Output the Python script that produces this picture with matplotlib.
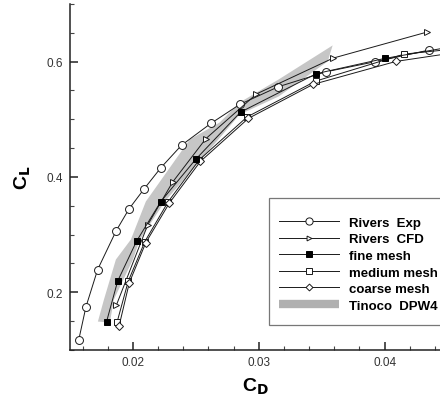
import matplotlib
matplotlib.use("Agg")
from matplotlib import pyplot as plt
from matplotlib.lines import Line2D
from matplotlib.patches import Rectangle
from matplotlib.ticker import MultipleLocator


# drag polar data, CD vs CL
exp_cd = [0.01569, 0.01627, 0.01720, 0.01867, 0.01970, 0.02090, 0.02222,
          0.02387, 0.02619, 0.02849, 0.03156, 0.03537, 0.03926, 0.04352]
exp_cl = [0.1167, 0.1747, 0.2394, 0.3065, 0.3447, 0.3794, 0.4158,
          0.4550, 0.4926, 0.5256, 0.5563, 0.5823, 0.5997, 0.6198]

cfd_cd = [0.01869, 0.02119, 0.02315, 0.02579, 0.02982, 0.03591, 0.04333]
cfd_cl = [0.1778, 0.3174, 0.3908, 0.4661, 0.5438, 0.6059, 0.6508]

fine_cd = [0.01791, 0.01879, 0.02029, 0.02222, 0.02498, 0.02855, 0.03458, 0.04000, 0.04650]
fine_cl = [0.1492, 0.2194, 0.2885, 0.3573, 0.4302, 0.5122, 0.5790, 0.6053, 0.6300]

medium_cd = [0.01875, 0.01963, 0.02095, 0.02280, 0.02526, 0.02907, 0.03452, 0.04155, 0.04700]
medium_cl = [0.1487, 0.2191, 0.2879, 0.3568, 0.4293, 0.5039, 0.5660, 0.6128, 0.6250]

coarse_cd = [0.01891, 0.01972, 0.02103, 0.02290, 0.02536, 0.02917, 0.03431, 0.04091, 0.04700]
coarse_cl = [0.1422, 0.2168, 0.2862, 0.3547, 0.4267, 0.5013, 0.5603, 0.6002, 0.6200]

# Tinoco DPW4 scatter band, upper and lower edges
band_upper_cd = [0.01722, 0.01770, 0.01865, 0.01984, 0.02103, 0.02452, 0.02690,
                 0.02849, 0.03159, 0.03587]
band_upper_cl = [0.1492, 0.1873, 0.2567, 0.2914, 0.3573, 0.4649, 0.4944,
                 0.5291, 0.5690, 0.6279]
band_lower_cd = [0.01817, 0.01849, 0.02000, 0.02056, 0.02254, 0.02611, 0.02849,
                 0.03159, 0.03548]
band_lower_cl = [0.1474, 0.1873, 0.2567, 0.2914, 0.3573, 0.4475, 0.5082,
                 0.5395, 0.6002]

labels = ["Rivers  Exp", "Rivers  CFD", "fine mesh", "medium mesh",
          "coarse mesh", "Tinoco  DPW4"]

LINE_COLOR = "#1a1a1a"
BAND_COLOR = "#c6c6c6"


def main():
    plt.rcParams["font.family"] = "Liberation Sans"

    fig = plt.figure(figsize=(4.4, 4.02), dpi=100)
    ax = fig.add_axes([0.159, 0.127, 0.841, 0.861])

    # band drawn as a closed polygon
    poly_x = band_upper_cd + band_lower_cd[::-1]
    poly_y = band_upper_cl + band_lower_cl[::-1]
    ax.fill(poly_x, poly_y, color=BAND_COLOR, lw=0, zorder=1)

    common = dict(color=LINE_COLOR, lw=0.7, zorder=3)
    ax.plot(exp_cd, exp_cl, marker="o", ms=5.7, mfc="white", mec=LINE_COLOR,
            mew=0.7, **common)
    ax.plot(cfd_cd, cfd_cl, marker=">", ms=4, mfc="white", mec=LINE_COLOR,
            mew=0.7, **common)
    ax.plot(medium_cd, medium_cl, marker="s", ms=4, mfc="white",
            mec=LINE_COLOR, mew=0.7, **common)
    ax.plot(coarse_cd, coarse_cl, marker="D", ms=4, mfc="white",
            mec=LINE_COLOR, mew=0.7, **common)
    ax.plot(fine_cd, fine_cl, marker="s", ms=4, mfc="black", mec="black",
            mew=0.7, **common)

    ax.set_xlim(0.015, 0.0444)
    ax.set_ylim(0.1, 0.7)

    ax.xaxis.set_major_locator(MultipleLocator(0.01))
    ax.xaxis.set_minor_locator(MultipleLocator(0.002))
    ax.yaxis.set_major_locator(MultipleLocator(0.2))
    ax.yaxis.set_minor_locator(MultipleLocator(0.05))
    ax.xaxis.set_major_formatter(lambda v, _: f"{v:g}")
    ax.yaxis.set_major_formatter(lambda v, _: f"{v:g}")

    for side in ("top", "right"):
        ax.spines[side].set_visible(False)
    for side in ("left", "bottom"):
        ax.spines[side].set_linewidth(1.1)
        ax.spines[side].set_color("#222222")

    ax.tick_params(which="major", direction="in", length=6, width=1.1,
                   color="#222222", labelsize=8.5, labelcolor="#333333")
    ax.tick_params(which="minor", direction="in", length=3, width=0.8,
                   color="#444444")
    ax.tick_params(axis="y", which="major", pad=5)
    ax.tick_params(axis="x", which="major", pad=4)

    ax.set_xlabel("C$_\\mathbf{D}$", fontsize=14, fontweight="bold",
                  labelpad=6)
    ax.set_ylabel("C$_\\mathbf{L}$", fontsize=14, fontweight="bold",
                  labelpad=10)

    handles = [
        Line2D([], [], color=LINE_COLOR, lw=0.7, marker="o", ms=5.2,
               mfc="white", mec=LINE_COLOR, mew=0.7),
        Line2D([], [], color=LINE_COLOR, lw=0.7, marker=">", ms=3.5,
               mfc="white", mec=LINE_COLOR, mew=0.7),
        Line2D([], [], color=LINE_COLOR, lw=0.7, marker="s", ms=3.7,
               mfc="black", mec="black", mew=0.7),
        Line2D([], [], color=LINE_COLOR, lw=0.7, marker="s", ms=3.7,
               mfc="white", mec=LINE_COLOR, mew=0.7),
        Line2D([], [], color=LINE_COLOR, lw=0.7, marker="D", ms=3.5,
               mfc="white", mec=LINE_COLOR, mew=0.7),
        Line2D([], [], color="#b0b0b0", lw=6, solid_capstyle="butt"),
    ]

    # legend box, open on the right where it runs off the figure
    fig.patches.append(Rectangle((269 / 440, 1 - 326 / 402), 0.45, 127 / 402,
                                 transform=fig.transFigure, fill=True,
                                 facecolor="white", edgecolor="#777777",
                                 lw=0.9, zorder=4))
    fig.legend(handles, labels, loc="upper left",
               bbox_to_anchor=(279 / 440, 1 - 217.5 / 402),
               bbox_transform=fig.transFigure,
               prop={"weight": "bold", "size": 9.5},
               frameon=False, numpoints=1,
               handlelength=4.55, handletextpad=0.75, labelspacing=0.33,
               borderpad=0, borderaxespad=0)

    fig.savefig("out.png", dpi=100)


if __name__ == "__main__":
    main()
